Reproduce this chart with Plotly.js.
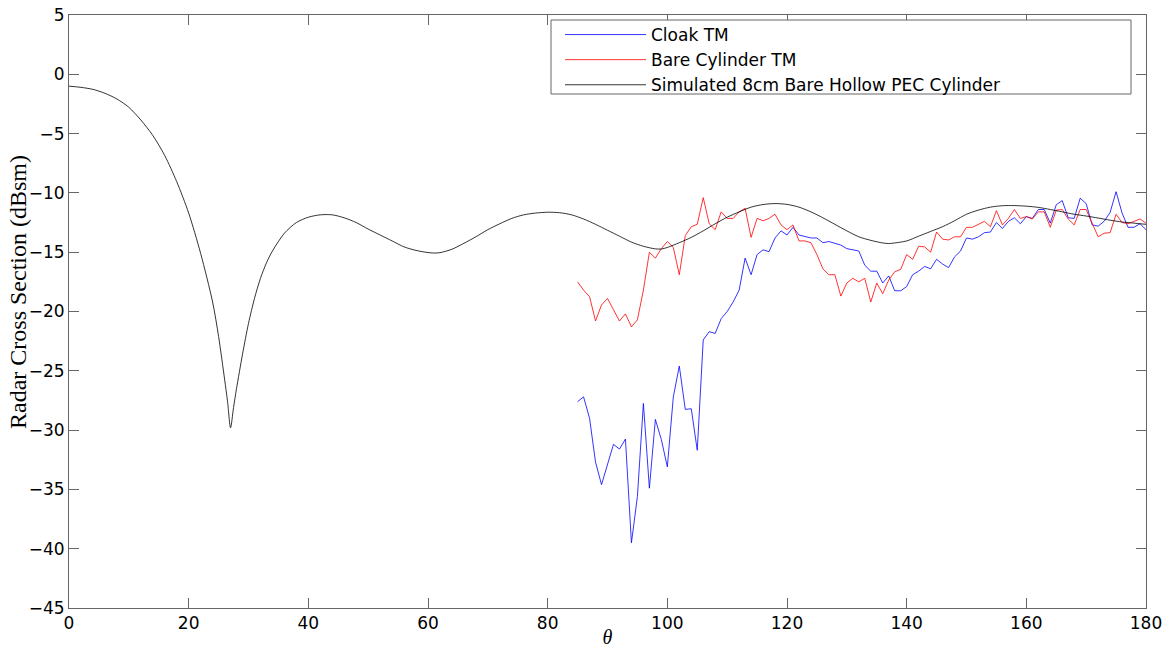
<!DOCTYPE html>
<html>
<head>
<meta charset="utf-8">
<script src="https://cdn.plot.ly/plotly-3.0.1.min.js"></script>
<style>html,body{margin:0;padding:0;background:#fff}#chart{width:1167px;height:648px}</style>
</head>
<body>
<div id="chart"></div>
<script>
const simTheta = [0,2,4,6,8,10,12,14,16,18,20,22,24,25,26,26.5,27,27.5,28,29,30,31,32,33,34,36,38,40,42,44,46,48,50,52,54,56,58,60,61,62,64,66,68,70,72,74,76,78,80,82,84,86,88,90,92,94,96,98,99,100,102,104,106,108,110,112,114,116,118,120,122,124,126,128,130,132,134,136,137,138,140,142,144,146,148,150,152,154,156,158,160,162,164,166,168,170,172,174,176,178,180];
const simRcs = [-1.0,-1.1,-1.27,-1.6,-2.08,-2.78,-3.85,-5.15,-6.85,-9.05,-11.7,-15.1,-19.2,-22.1,-25.7,-27.6,-29.8,-28.1,-26.5,-23.6,-21.0,-18.9,-17.2,-15.9,-14.9,-13.4,-12.5,-12.05,-11.85,-11.85,-12.1,-12.5,-13.05,-13.55,-14.05,-14.55,-14.85,-15.03,-15.07,-15.04,-14.75,-14.25,-13.7,-13.1,-12.6,-12.15,-11.85,-11.7,-11.63,-11.67,-11.85,-12.2,-12.65,-13.15,-13.65,-14.15,-14.5,-14.72,-14.73,-14.6,-14.2,-13.75,-13.2,-12.6,-12.05,-11.6,-11.2,-10.98,-10.9,-10.97,-11.2,-11.6,-12.1,-12.65,-13.2,-13.7,-14.0,-14.22,-14.27,-14.22,-14.05,-13.65,-13.25,-12.85,-12.35,-11.8,-11.45,-11.2,-11.08,-11.07,-11.12,-11.22,-11.4,-11.6,-11.8,-11.95,-12.12,-12.3,-12.45,-12.55,-12.65];

const measTheta = [85,86,87,88,89,90,91,92,93,94,95,96,97,98,99,100,101,102,103,104,105,106,107,108,109,110,111,112,113,114,115,116,117,118,119,120,121,122,123,124,125,126,127,128,129,130,131,132,133,134,135,136,137,138,139,140,141,142,143,144,145,146,147,148,149,150,151,152,153,154,155,156,157,158,159,160,161,162,163,164,165,166,167,168,169,170,171,172,173,174,175,176,177,178,179,180];
const cloakTM = [-27.6,-27.2,-29.0,-32.7,-34.6,-32.9,-31.2,-31.6,-30.75,-39.5,-35.6,-27.75,-34.9,-29.1,-30.8,-33.1,-27.2,-24.6,-28.25,-28.2,-31.7,-22.4,-21.7,-21.85,-20.6,-20.0,-19.2,-18.2,-15.5,-16.9,-15.2,-14.8,-14.95,-13.8,-13.2,-13.55,-12.9,-13.55,-13.7,-13.8,-13.8,-14.2,-14.1,-14.25,-14.4,-14.7,-14.8,-14.9,-16.1,-16.6,-16.6,-17.6,-17.0,-18.25,-18.25,-17.9,-16.9,-16.6,-16.2,-16.4,-15.6,-16.0,-16.3,-15.4,-14.9,-13.8,-13.9,-13.7,-13.35,-13.3,-12.5,-13.0,-12.4,-12.1,-12.6,-12.0,-12.15,-11.4,-11.4,-12.55,-11.0,-10.65,-12.1,-12.15,-10.45,-10.9,-12.7,-12.8,-12.4,-11.65,-9.9,-11.7,-12.9,-12.9,-12.6,-13.1];
const bareTM = [-17.5,-18.2,-18.75,-20.8,-19.45,-18.9,-19.85,-20.8,-20.2,-21.3,-20.7,-18.2,-15.0,-15.5,-14.7,-14.1,-14.6,-16.9,-13.6,-12.85,-12.65,-10.4,-12.6,-13.1,-11.6,-12.15,-12.15,-11.6,-11.3,-13.75,-12.15,-12.35,-12.15,-11.8,-12.7,-13.1,-12.7,-14.05,-14.05,-14.2,-15.2,-16.4,-16.9,-16.9,-18.7,-17.6,-17.2,-17.5,-17.2,-19.2,-17.6,-18.5,-17.35,-16.65,-16.45,-15.2,-15.6,-14.5,-14.55,-15.0,-13.3,-13.9,-13.97,-13.7,-13.7,-12.9,-12.9,-12.65,-12.4,-12.85,-11.5,-12.7,-12.15,-11.4,-12.15,-12.0,-12.2,-11.6,-11.6,-12.9,-11.45,-11.4,-12.2,-12.7,-11.4,-11.4,-12.55,-13.7,-13.4,-13.35,-11.8,-12.5,-12.6,-12.4,-12.2,-12.55];

const xTicks = [0,20,40,60,80,100,120,140,160,180];
const yTicks = [5,0,-5,-10,-15,-20,-25,-30,-35,-40,-45];

const traces = [
  {x: measTheta, y: cloakTM, name: 'Cloak TM', mode: 'lines', line: {color: '#0000ff', width: 0.8}},
  {x: measTheta, y: bareTM, name: 'Bare Cylinder TM', mode: 'lines', line: {color: '#ff0000', width: 0.8}},
  {x: simTheta, y: simRcs, name: 'Simulated 8cm Bare Hollow PEC Cylinder', mode: 'lines', line: {color: '#000000', width: 0.8, shape: 'spline', smoothing: 0.8}}
];

const axisCommon = {
  showgrid: false, zeroline: false, showline: true, linecolor: '#666', linewidth: 1,
  ticks: 'inside', ticklen: 10, tickcolor: '#666', tickwidth: 1, mirror: 'ticks',
  tickfont: {family: 'DejaVu Sans, sans-serif', size: 17, color: '#000'}
};

// plot area pixel geometry helpers (for legend frame / label placement)
const L = 69, R = 21, T = 15, B = 40, W = 1167, H = 648;
const pw = W - L - R, ph = H - T - B;
const px2x = p => (p - L) / pw;
const px2y = p => 1 - (p - T) / ph;

const layout = {
  width: W, height: H,
  margin: {l: L, r: R, t: T, b: B},
  paper_bgcolor: '#fff', plot_bgcolor: '#fff',
  showlegend: true,
  xaxis: Object.assign({}, axisCommon, {
    range: [0, 180], tickmode: 'array', tickvals: xTicks, ticktext: xTicks.map(String),
    title: {text: '<i>θ</i>', font: {family: 'Liberation Serif, serif', size: 20, color: '#000'}, standoff: 2}
  }),
  yaxis: Object.assign({}, axisCommon, {
    range: [-45, 5], tickmode: 'array', tickvals: yTicks, ticktext: yTicks.map(v => v < 0 ? '\u2212' + Math.abs(v) : String(v))
  }),
  annotations: [{
    text: 'Radar Cross Section (dBsm)', textangle: -90, showarrow: false,
    xref: 'paper', yref: 'paper', x: px2x(18), y: px2y(292), xanchor: 'center', yanchor: 'middle',
    font: {family: 'Liberation Serif, serif', size: 24, color: '#000'}
  }],
  shapes: [{
    type: 'rect', xref: 'paper', yref: 'paper', layer: 'above',
    x0: px2x(551), x1: px2x(1131), y0: px2y(94), y1: px2y(20),
    line: {color: '#666', width: 1}, fillcolor: '#fff'
  }],
  legend: {
    x: px2x(560), y: px2y(17), xanchor: 'left', yanchor: 'top',
    bgcolor: 'rgba(0,0,0,0)', borderwidth: 0,
    font: {family: 'DejaVu Sans, sans-serif', size: 17, color: '#000'},
    itemwidth: 81, tracegroupgap: 0
  }
};

Plotly.newPlot('chart', traces, layout, {displayModeBar: false, staticPlot: true});
</script>
</body>
</html>
